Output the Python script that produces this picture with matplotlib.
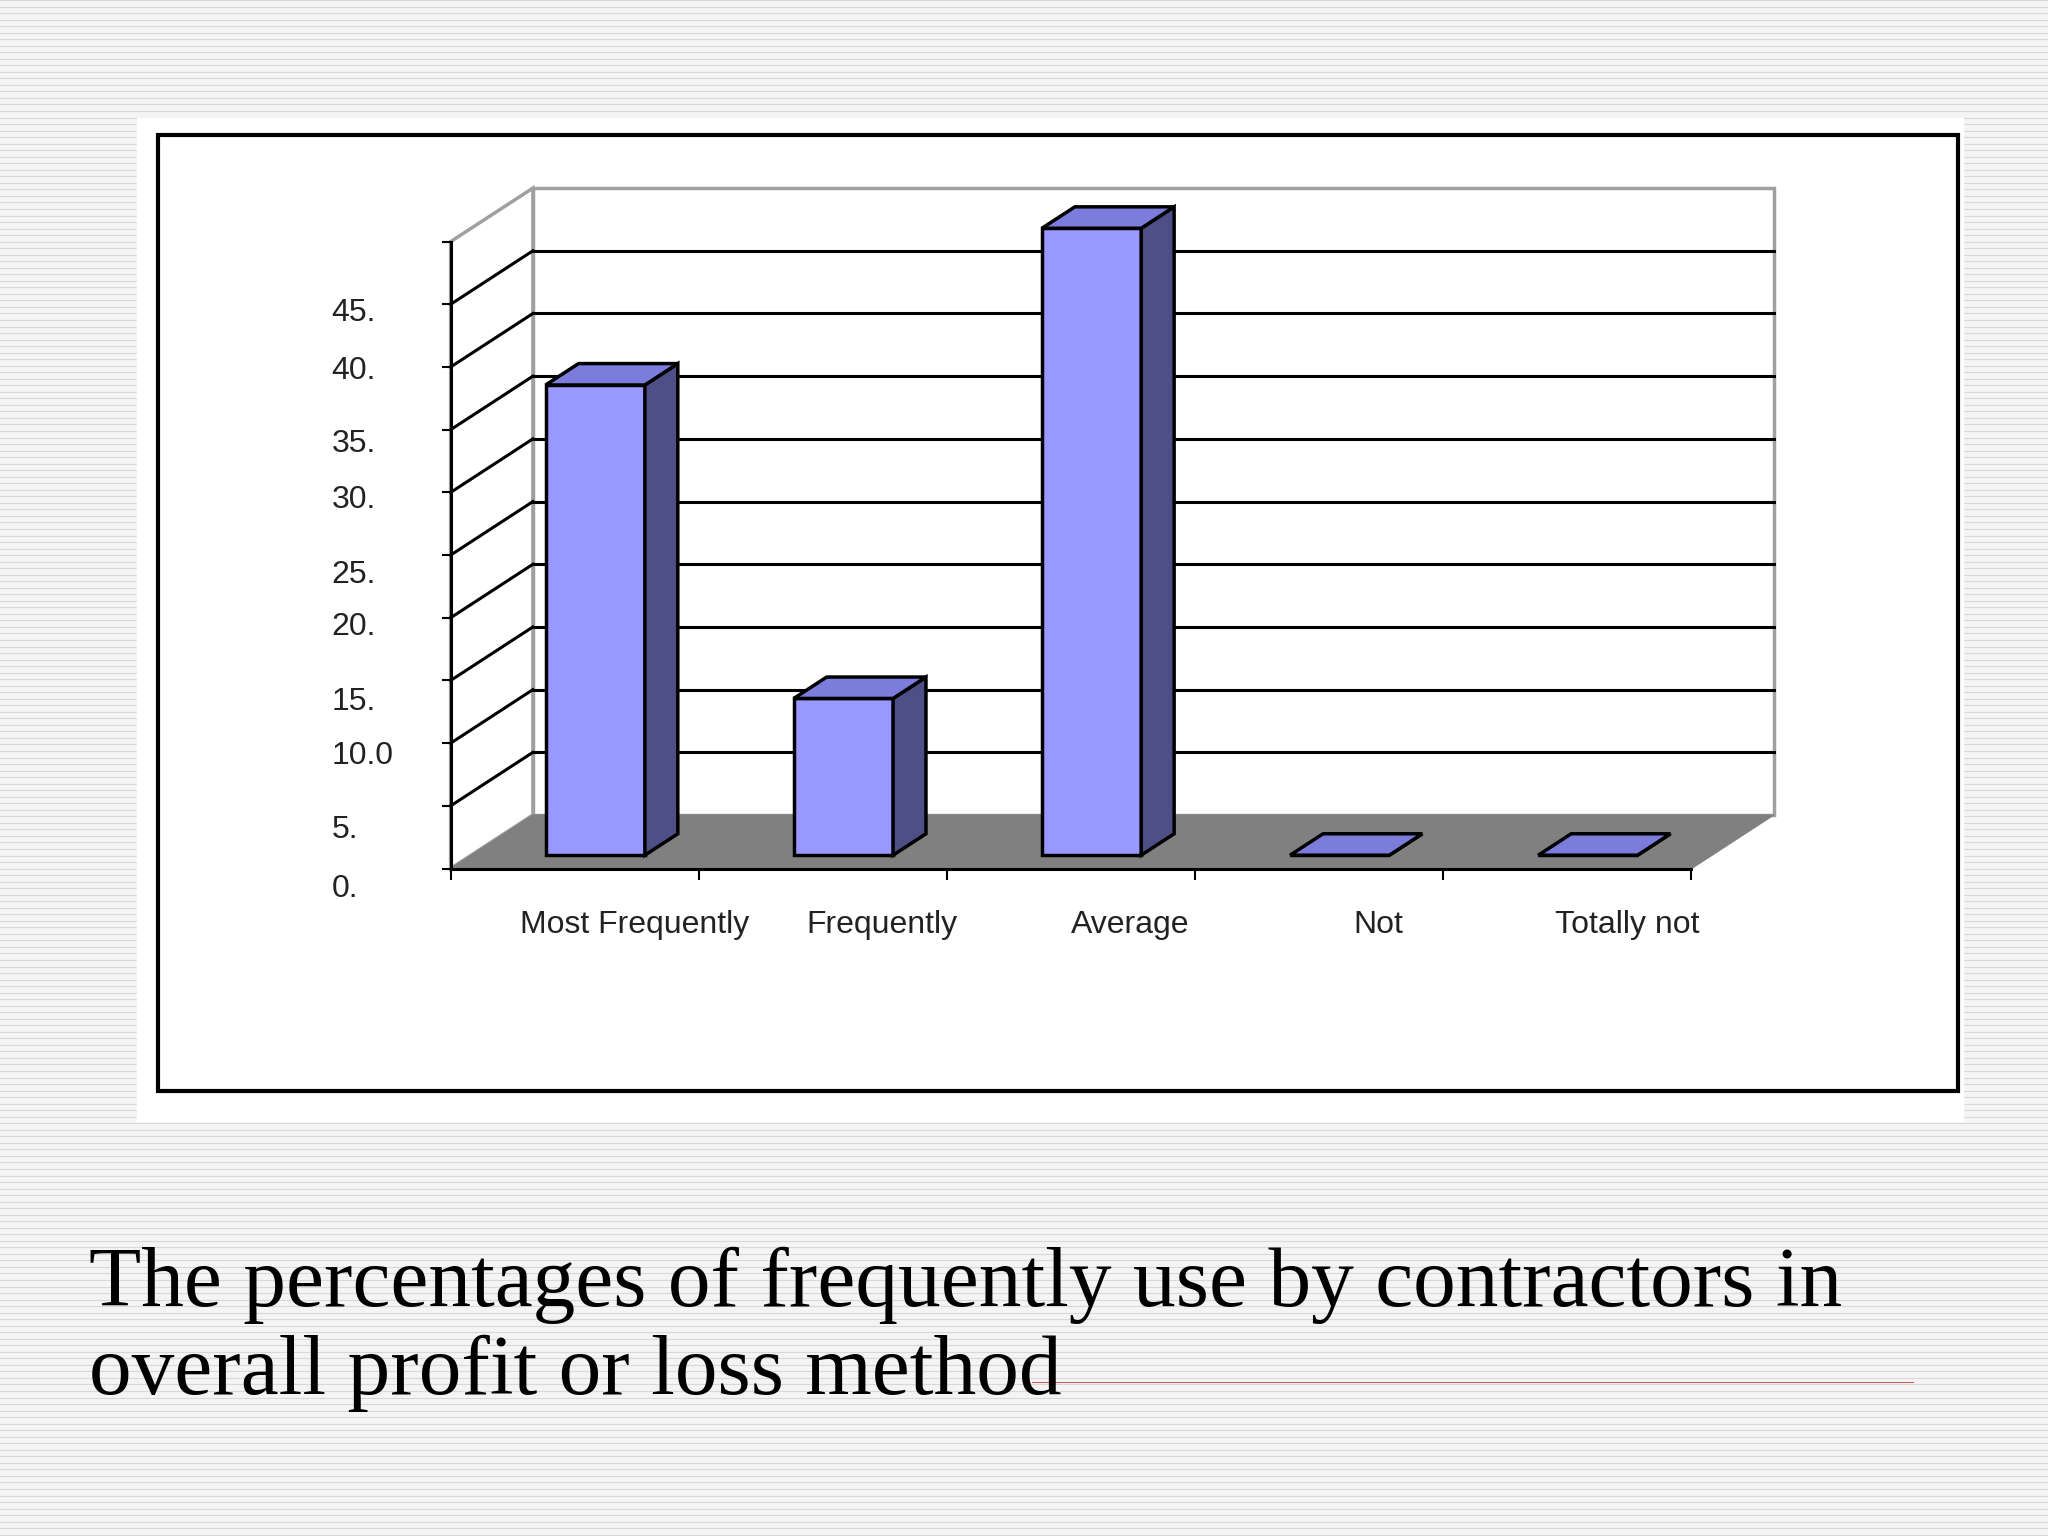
import matplotlib
matplotlib.use("Agg")
import matplotlib.pyplot as plt
from matplotlib.patches import Polygon, Rectangle
import numpy as np

categories = ["Most Frequently", "Frequently", "Average", "Not", "Totally not"]
values = [37.5, 12.5, 50.0, 0.0, 0.0]
tick_values = [0, 5, 10, 15, 20, 25, 30, 35, 40, 45]
tick_labels = ["0.", "5.", "10.0", "15.", "20.", "25.", "30.", "35.", "40.", "45."]
tick_label_pos = [-1.6, 3.1, 9.0, 13.3, 19.3, 23.4, 29.4, 33.9, 39.7, 44.3]
title = "The percentages of frequently use by contractors in\noverall profit or loss method"

W, H = 1568, 1176
fig = plt.figure(figsize=(20.48, 15.36), dpi=100)

# striped slide background
bg = fig.add_axes([0, 0, 1, 1])
bg.set_xlim(0, W)
bg.set_ylim(H, 0)
bg.axis("off")
bg.add_patch(Rectangle((0, 0), W, H, color="#f4f4f4", zorder=0))
for y in np.arange(0, H, 5):
    bg.axhline(y, color="#d8d8d8", lw=0.8, zorder=1)
bg.add_patch(Rectangle((105, 90), 1398, 768, color="white", zorder=2))
bg.add_patch(Rectangle((121, 103), 1378, 732, fc="white", ec="black", lw=3, zorder=3))
bg.plot([790, 1465], [1058, 1058], color="#c06060", lw=0.8, zorder=3)
bg.text(68, 1018, title, fontsize=61.5, family="Liberation Serif", va="center",
        ha="left", linespacing=1.18, zorder=4)

# chart axes: front plane
ax = fig.add_axes([345 / W, 1 - 665 / H, 950 / W, 480 / H])
ax.set_xlim(0, 5)
ax.set_ylim(0, 50)
ax.axis("off")
ax.set_clip_on(False)

dx, dy = 63 / 190, 4.27  # depth offset of back wall
top = 50

def P(pts, **kw):
    p = Polygon(pts, closed=True, clip_on=False, **kw)
    ax.add_patch(p)

# back wall, left wall
P([(dx, dy), (5 + dx, dy), (5 + dx, top + dy), (dx, top + dy)], fc="white", ec="#a0a0a0", lw=2.5, zorder=1)
P([(0, 0), (dx, dy), (dx, top + dy), (0, top)], fc="white", ec="#a0a0a0", lw=2.5, zorder=1)
for v in range(5, 50, 5):
    ax.plot([dx, 5 + dx], [v + dy, v + dy], color="black", lw=2.2, zorder=2, clip_on=False)
    ax.plot([0, dx], [v, v + dy], color="black", lw=2.2, zorder=2, clip_on=False)
# floor
P([(0, 0), (5, 0), (5 + dx, dy), (dx, dy)], fc="#808080", ec="#808080", zorder=2)

# front axes
ax.plot([0, 0], [0, top], color="black", lw=2.2, zorder=6, clip_on=False)
ax.plot([0, 5], [0, 0], color="black", lw=2.2, zorder=6, clip_on=False)
for v in range(0, 55, 5):
    ax.plot([-0.03, 0], [v, v], color="black", lw=1.5, zorder=6, clip_on=False)
for i in range(6):
    ax.plot([i, i], [0, -0.8], color="black", lw=1.5, zorder=6, clip_on=False)

# bars
f0, bd, bw = 0.25, 0.4, 0.4
for i, v in enumerate(values):
    x0 = i + 0.5 - bw / 2 + f0 * dx
    y0 = f0 * dy
    ox, oy = bd * dx, bd * dy
    P([(x0, y0), (x0 + bw, y0), (x0 + bw, y0 + v), (x0, y0 + v)], fc="#9999ff", ec="black", lw=2.5, zorder=4)
    P([(x0 + bw, y0), (x0 + bw + ox, y0 + oy), (x0 + bw + ox, y0 + v + oy), (x0 + bw, y0 + v)],
      fc="#4f4f88", ec="black", lw=2.5, zorder=4)
    P([(x0, y0 + v), (x0 + bw, y0 + v), (x0 + bw + ox, y0 + v + oy), (x0 + ox, y0 + v + oy)],
      fc="#7c7cdc", ec="black", lw=2.5, zorder=5)

for lab, pos in zip(tick_labels, tick_label_pos):
    ax.text(-0.48, pos, lab, fontsize=23, family="Liberation Sans", ha="left", va="center",
            color="#222222", stretch="condensed")
for i, c in enumerate(categories):
    ax.text(i + 0.74, -4.5, c, fontsize=23, family="Liberation Sans", ha="center", va="center",
            color="#222222")

fig.savefig("out.png", dpi=100)
